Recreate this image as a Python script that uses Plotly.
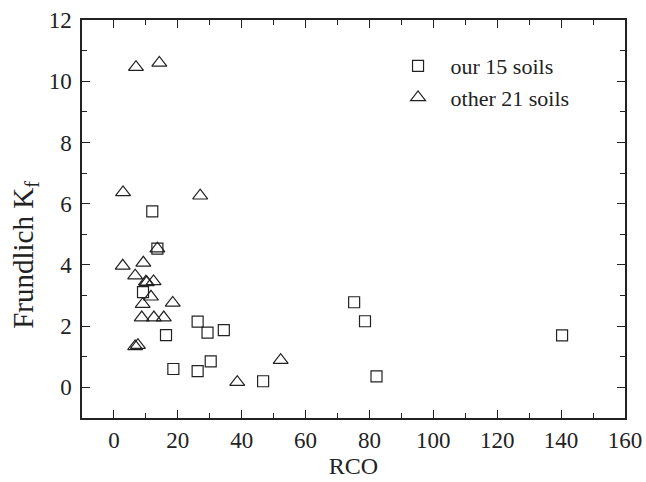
import plotly.graph_objects as go

# our 15 soils (squares)
our_rco = [12.0, 13.6, 9.1, 16.3, 26.2, 29.3, 34.4, 18.6, 26.2, 30.3, 46.7, 75.2, 78.6, 82.2, 140.3]
our_kf = [5.75, 4.53, 3.11, 1.71, 2.15, 1.79, 1.87, 0.60, 0.53, 0.85, 0.20, 2.78, 2.16, 0.36, 1.70]

# other 21 soils (triangles)
oth_rco = [6.9, 14.2, 2.85, 27.0, 13.6, 2.75, 9.2, 6.65, 10.3, 12.4, 11.6, 9.0, 18.4,
           8.7, 12.5, 15.6, 6.65, 7.5, 38.6, 52.2, 10.0]
oth_kf = [10.46, 10.6, 6.37, 6.26, 4.53, 3.97, 4.07, 3.65, 3.43, 3.46, 2.96, 2.72, 2.76,
          2.28, 2.28, 2.28, 1.34, 1.38, 0.17, 0.89, 3.45]

x_title = "RCO"
y_title = "Frundlich K<sub>f</sub>"

font_family = "Liberation Serif, Times New Roman, serif"
ink = "#222222"

fig = go.Figure()
fig.add_trace(go.Scatter(
    x=our_rco, y=our_kf, mode="markers", name="our 15 soils",
    marker=dict(symbol="square-open", size=11, color=ink, line=dict(width=1.2, color=ink)),
))
fig.add_trace(go.Scatter(
    x=oth_rco, y=oth_kf, mode="markers", name="other 21 soils",
    marker=dict(symbol="triangle-up-open", size=13, color=ink, line=dict(width=1.2, color=ink)),
))

axis_common = dict(
    showline=True, linecolor=ink, linewidth=1.5, mirror="allticks",
    ticks="inside", ticklen=8, tickwidth=1.3, tickcolor=ink,
    showgrid=False, zeroline=False, automargin=False,
    tickfont=dict(family=font_family, size=23, color=ink),
)

fig.update_xaxes(
    range=[-10, 160], dtick=20, tick0=0,
    minor=dict(dtick=10, ticks="inside", ticklen=5, tickwidth=1.3, tickcolor=ink),
    title=dict(text=x_title, font=dict(family=font_family, size=24, color=ink), standoff=5),
    ticklabelstandoff=1,
    **axis_common,
)
fig.update_yaxes(
    range=[-1, 12], dtick=2, tick0=0,
    minor=dict(dtick=1, ticks="inside", ticklen=5, tickwidth=1.3, tickcolor=ink),
    ticklabelstandoff=4,
    **axis_common,
)

# y-axis title placed as rotated annotation (it sits below the axis centre in the reference)
fig.add_annotation(
    text=y_title, textangle=-90, showarrow=False,
    xref="paper", yref="paper", x=-0.105, y=0.41, xanchor="center", yanchor="middle",
    font=dict(family=font_family, size=29, color=ink),
)

fig.update_layout(
    width=646, height=482,
    margin=dict(l=82, r=21, t=20, b=64),
    paper_bgcolor="white", plot_bgcolor="white",
    showlegend=True,
    legend=dict(
        x=0.559, y=0.937, xanchor="left", yanchor="top",
        font=dict(family=font_family, size=22, color=ink),
        bgcolor="rgba(0,0,0,0)", itemwidth=55, tracegroupgap=0,
    ),
    font=dict(family=font_family, color=ink),
)

fig.write_html("out.html")
